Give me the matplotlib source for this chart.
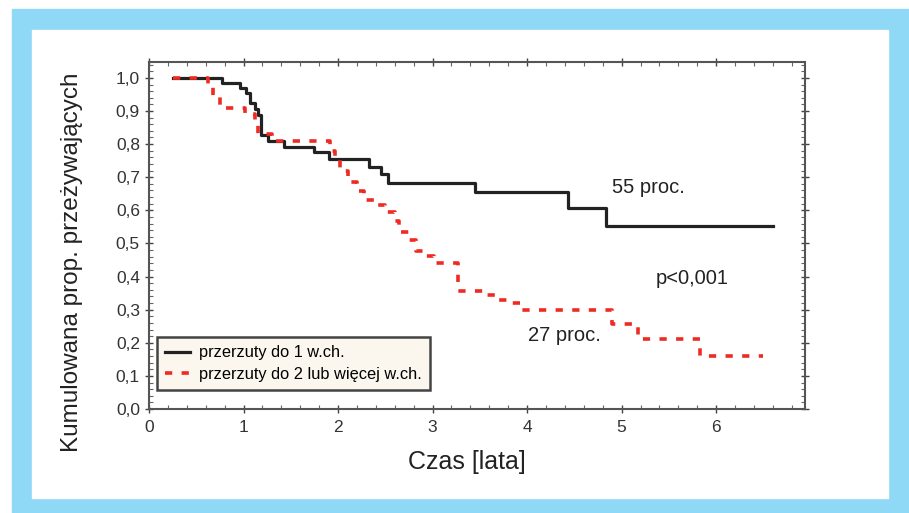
import matplotlib.pyplot as plt
from matplotlib.patches import Rectangle
from matplotlib.ticker import MultipleLocator

# krzywe Kaplana-Meiera (czas w latach, odsetek przezywajacych)
czas_1 = [0.25, 0.77, 0.96, 1.03, 1.07, 1.12, 1.15, 1.18, 1.26, 1.43, 1.75, 1.90,
          2.33, 2.45, 2.53, 3.45, 4.43, 4.83, 6.60]
prop_1 = [1.00, 0.985, 0.969, 0.954, 0.923, 0.906, 0.888, 0.828, 0.810, 0.792, 0.775, 0.754,
          0.732, 0.709, 0.684, 0.654, 0.607, 0.553, 0.553]

czas_2 = [0.25, 0.62, 0.68, 0.75, 1.02, 1.12, 1.15, 1.30, 1.92, 1.97, 2.02, 2.10, 2.20,
          2.27, 2.40, 2.50, 2.60, 2.65, 2.75, 2.82, 2.93, 3.02, 3.27, 3.55, 3.68, 3.80,
          3.92, 4.90, 5.17, 5.83, 6.50]
prop_2 = [1.00, 0.98, 0.945, 0.91, 0.89, 0.86, 0.83, 0.808, 0.78, 0.752, 0.72, 0.687, 0.657,
          0.631, 0.615, 0.594, 0.568, 0.534, 0.51, 0.477, 0.463, 0.44, 0.355, 0.344, 0.329, 0.321,
          0.30, 0.257, 0.211, 0.16, 0.16]

etykiety = ["przerzuty do 1 w.ch.", "przerzuty do 2 lub więcej w.ch."]
y_ticks = [0.0, 0.1, 0.2, 0.3, 0.4, 0.5, 0.6, 0.7, 0.8, 0.9, 1.0]
x_ticks = [0, 1, 2, 3, 4, 5, 6]

plt.rcParams['font.family'] = ['Liberation Sans', 'DejaVu Sans']

W, H = 909, 513
fig = plt.figure(figsize=(W / 100, H / 100), dpi=100)
fig.patch.set_facecolor('white')

# niebieska ramka
fig.add_artist(Rectangle((12 / W, 0), 1 - 12 / W, 1 - 9 / H,
                         transform=fig.transFigure, color='#8fd8f6', zorder=0))
fig.add_artist(Rectangle((32 / W, 1 - 498 / H), (888 - 32) / W, (498 - 30) / H,
                         transform=fig.transFigure, color='white', zorder=0))

ax = fig.add_axes([149 / W, 1 - 409 / H, (805 - 149) / W, (409 - 62) / H])
ax.set_facecolor('white')

ax.plot(czas_1, prop_1, drawstyle='steps-post', color='#222222', lw=2.3,
        label=etykiety[0])
ax.plot(czas_2, prop_2, drawstyle='steps-post', color='#ee2a22', lw=2.6,
        linestyle=(0, (2.0, 2.6)), label=etykiety[1])

ax.set_xlim(0, 6.94)
ax.set_ylim(0, 1.048)
ax.set_xticks(x_ticks)
ax.set_yticks(y_ticks)
ax.set_yticklabels([f"{v:.1f}".replace('.', ',') for v in y_ticks])
ax.xaxis.set_minor_locator(MultipleLocator(0.2))
ax.yaxis.set_minor_locator(MultipleLocator(0.02))
ax.tick_params(which='major', direction='inout', length=6, width=1, colors='#444444',
               labelcolor='#333333', labelsize=12.5, top=True, right=True)
ax.tick_params(which='minor', direction='in', length=3, width=0.8, colors='#666666',
               top=True, right=True)
ax.tick_params(axis='x', which='major', pad=5)
for s in ax.spines.values():
    s.set_color('#555555')
    s.set_linewidth(1.5)

ax.set_xlabel("Czas [lata]", fontsize=18, color='#222222')
ax.xaxis.set_label_coords(0.485, -0.118)
ax.set_ylabel("Kumulowana prop. przeżywających", fontsize=17.5, color='#222222')
ax.yaxis.set_label_coords(-0.100, 0.424)

ax.text(4.90, 0.652, "55 proc.", fontsize=14.5, color='#222222')
ax.text(5.365, 0.378, "p<0,001", fontsize=14.5, color='#222222')
ax.text(4.01, 0.205, "27 proc.", fontsize=14.5, color='#222222')

leg = ax.legend(loc='lower left', bbox_to_anchor=(0.0, 0.03), fontsize=11.8,
                frameon=True, fancybox=False, handlelength=1.5, handletextpad=0.55,
                borderpad=0.5, labelspacing=0.42)
leg.get_frame().set_facecolor('#fbf6ee')
leg.get_frame().set_edgecolor('#444444')
leg.get_frame().set_linewidth(1.8)
leg.get_frame().set_alpha(1)

fig.savefig("out.png", dpi=100)
